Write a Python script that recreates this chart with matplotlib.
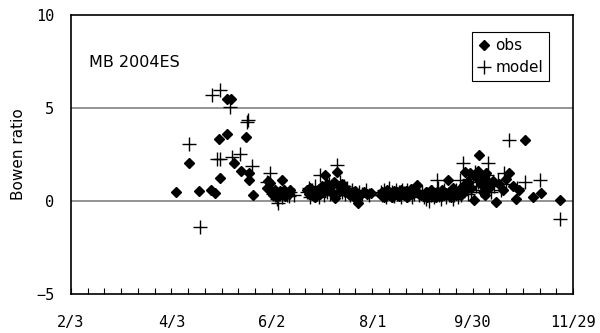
import matplotlib
matplotlib.use("Agg")
import matplotlib.pyplot as plt
from matplotlib.ticker import MultipleLocator, FixedLocator

plt.rcParams['font.family'] = ['DejaVu Sans']

# day offsets counted from 2/3 (2004)
tick_days = [0, 60, 120, 180, 240, 300]
tick_labels = ['2/3', '4/3', '6/2', '8/1', '9/30', '11/29']

obs_days = [62.8, 70.7, 76.7, 83.5, 86, 88.5, 89, 93, 93, 95.6, 97.4, 101.4, 104.6, 106.6, 106.6, 108.6,
            117, 118, 119, 120, 121, 122, 123, 124, 125, 126, 127, 128, 129, 130, 131,
            141, 142, 143, 144, 145, 146, 147, 148, 149, 150, 151, 152, 153, 154, 155, 156, 157, 158, 159,
            160, 161, 162, 163, 164, 165, 166, 167, 168, 169, 170, 171.5, 173, 175, 177, 179,
            185, 186, 187, 188, 189, 190, 191, 192, 193, 194, 195, 196, 197, 198, 199, 200, 201, 202, 203,
            204, 205, 206.6, 208, 209, 211, 212, 213, 214, 215, 216, 217, 218, 219, 220, 221, 222, 223, 224,
            225.5, 226, 227, 228, 229, 230, 231,
            232, 233, 234, 235.5, 236, 237, 238.5, 239, 240.9, 242, 243, 244, 244.5, 245, 246, 247.5, 248,
            249.4, 250, 252, 254, 256, 258.4, 260, 262, 264, 266, 268, 271.4, 276, 280.7, 292.3]
obs_vals = [0.5, 2.06, 0.55, 0.6, 0.41, 3.35, 1.22, 3.6, 5.47, 5.47, 2.06, 1.6, 3.46, 1.49, 1.13, 0.32,
            0.7, 1.1, 0.95, 0.5, 0.3, 0.6, 0.2, 0.4, 0.55, 1.13, 0.6, 0.25, 0.45, 0.35, 0.6,
            0.6, 0.4, 0.7, 0.3, 0.55, 0.2, 0.5, 0.65, 0.35, 0.8, 0.5, 1.4, 0.9, 0.6, 0.75, 0.45, 1.0, 0.16, 1.58,
            0.8, 0.55, 0.9, 0.7, 0.5, 0.6, 0.4, 0.3, 0.5, 0.2, 0.55, -0.1, 0.3, 0.5, 0.35, 0.45,
            0.3, 0.5, 0.2, 0.4, 0.6, 0.3, 0.45, 0.2, 0.55, 0.35, 0.5, 0.25, 0.6, 0.4, 0.3, 0.55, 0.2, 0.45, 0.65,
            0.35, 0.5, 0.86, 0.4, 0.3, 0.25, 0.5, 0.2, 0.4, 0.6, 0.3, 0.45, 0.2, 0.5, 0.35, 0.25, 0.6, 0.3, 0.45,
            1.13, 0.5, 0.2, 0.7, 0.4, 0.3, 0.55,
            0.5, 0.3, 0.8, 1.58, 0.6, 1.0, 1.49, 0.7, 0.05, 1.3, 1.6, 2.47, 1.22, 0.9, 0.5, 0.32, 1.5,
            1.04, 0.7, 1.1, -0.04, 0.9, 0.59, 1.2, 1.52, 0.8, 0.1, 0.6, 3.28, 0.2, 0.41, 0.05]

model_days = [70.7, 77, 84, 89, 95, 87, 89, 96.5, 101, 105, 106, 108,
              117, 119, 120, 121, 122, 123, 124, 125, 126, 127, 128, 129, 130, 131, 133,
              141, 142, 143, 144, 145, 146, 147, 148, 149, 150, 151, 152, 153, 154, 155, 156, 157, 159,
              160, 161, 162, 163, 164, 165, 166, 167, 168, 169, 170, 171, 172, 174, 176, 178,
              185, 186, 187, 188, 189, 190, 191, 192, 193, 194, 195, 196, 197, 198, 199, 200, 201, 202, 203,
              204, 205, 207, 208, 210, 211, 212, 213, 214, 215, 216, 217, 218.6, 219.5, 220, 221, 222, 223,
              224, 226, 227, 228, 229, 230, 231,
              232.5, 233, 234.5, 235, 236, 237, 238, 239, 240, 241.5, 242, 243, 244, 245, 246, 247, 248.5,
              249.4, 250, 251, 253, 255.4, 257, 259, 260, 262, 266.4, 271.4, 280.3, 292.3]
model_vals = [3.05, -1.4, 5.7, 5.97, 5.07, 2.26, 2.26, 2.38, 2.53, 4.26, 4.35, 1.9,
              1.0, 1.5, 0.7, 0.4, 0.3, 0.1, -0.1, 0.35, 0.2, 0.5, 0.45, 0.3, 0.25, 0.5, 0.3,
              0.5, 0.7, 0.2, 0.6, 0.3, 0.8, 0.4, 0.2, 1.4, 0.6, 0.3, 0.7, 0.5, 0.9, 0.4, 0.8, 0.6, 1.94,
              0.6, 1.0, 0.5, 0.8, 0.4, 0.7, 0.5, 0.3, 0.6, 0.4, 0.3, 0.2, 0.5, 0.4, 0.6, 0.3,
              0.5, 0.3, 0.6, 0.2, 0.4, 0.7, 0.3, 0.5, 0.25, 0.6, 0.35, 0.5, 0.2, 0.6, 0.45, 0.3, 0.6, 0.35, 0.5,
              0.2, 0.4, 0.6, 0.3, 0.5, 0.2, 0.1, 0.4, 0.0, 0.3, 0.5, 0.2, 1.13, 0.7, 0.3, 0.1, 0.4, 0.6,
              0.2, 0.3, 0.5, 0.1, 0.3, 0.6, 0.2,
              1.13, 0.3, 2.02, 0.6, 0.9, 0.4, 1.2, 0.5, 1.3, 1.58, 0.8, 1.0, 1.4, 0.6, 1.2, 0.8, 1.4,
              2.02, 1.0, 0.5, 0.8, 1.13, 0.6, 1.49, 0.9, 3.28, 0.68, 1.04, 1.13, -0.98]

fig = plt.figure(figsize=(6.0, 3.33), dpi=100)
ax = fig.add_axes([71/600, 1-294/333, 502/600, 279/333])

for y in [0, 5]:
    ax.axhline(y, color='#808080', lw=1.2, zorder=1)

ax.plot(obs_days, obs_vals, linestyle='none', marker='D', ms=4.6, color='black',
        label='obs', zorder=3)
ax.plot(model_days, model_vals, linestyle='none', marker='+', ms=10, mew=1.0, color='black',
        label='model', zorder=4)

ax.set_xlim(0, 300)
ax.set_ylim(-5, 10)
ax.xaxis.set_major_locator(FixedLocator(tick_days))
ax.set_xticklabels(tick_labels, family='DejaVu Sans Mono')
ax.xaxis.set_minor_locator(MultipleLocator(10))
ax.set_yticks([-5, 0, 5, 10])
ax.set_yticklabels(['\u22125', '0', '5', '10'], family='DejaVu Sans Mono')

ax.tick_params(axis='x', which='both', direction='in', length=4.5, width=0.8, pad=15,
               labelsize=11, top=False)
ax.tick_params(axis='y', which='both', length=0, pad=12, labelsize=11)

for s in ax.spines.values():
    s.set_linewidth(1.2)
    s.set_color('black')

ax.set_ylabel('Bowen ratio', fontsize=11, labelpad=7)
ax.text(0.036, 0.83, 'MB 2004ES', transform=ax.transAxes, fontsize=11.5,
        ha='left', va='center')

leg = ax.legend(loc='upper right', bbox_to_anchor=((549-71)/502, (294-32)/279),
                borderaxespad=0, fancybox=False, edgecolor='black', fontsize=11,
                handlelength=0.8, handletextpad=0.3, labelspacing=0.45, borderpad=0.4,
                framealpha=1)
leg.get_frame().set_linewidth(0.8)

fig.savefig('out.png', dpi=100)
